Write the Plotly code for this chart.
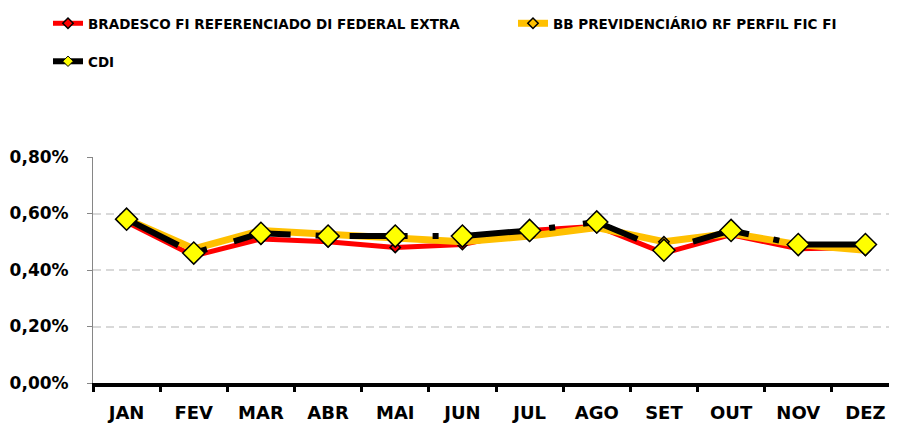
import plotly.graph_objects as go

months = ["JAN", "FEV", "MAR", "ABR", "MAI", "JUN", "JUL", "AGO", "SET", "OUT", "NOV", "DEZ"]
bradesco = [0.57, 0.45, 0.51, 0.50, 0.48, 0.49, 0.54, 0.555, 0.46, 0.525, 0.475, 0.48]
bb = [0.58, 0.475, 0.54, 0.525, 0.515, 0.50, 0.52, 0.55, 0.50, 0.53, 0.49, 0.47]
cdi = [0.58, 0.46, 0.53, 0.52, 0.52, 0.52, 0.54, 0.57, 0.47, 0.54, 0.49, 0.49]
y_ticks = [0, 0.002, 0.004, 0.006, 0.008]

FONT = "DejaVu Sans"
W, H = 891, 420
CDI_DASH = "58px,25px,6px,28px"

fig = go.Figure()
fig.add_trace(go.Scatter(
    x=months, y=[v / 100 for v in bradesco], mode="lines+markers",
    name="BRADESCO FI REFERENCIADO DI FEDERAL EXTRA",
    line=dict(color="#FF0000", width=5),
    marker=dict(symbol="diamond", size=8, color="#FF0000", line=dict(color="black", width=1.5)),
    legend="legend"))
fig.add_trace(go.Scatter(
    x=months, y=[v / 100 for v in bb], mode="lines+markers",
    name="BB PREVIDENCIÁRIO RF PERFIL FIC FI",
    line=dict(color="#FFC000", width=7),
    marker=dict(symbol="diamond", size=8, color="#FFC000", line=dict(color="black", width=1.5)),
    legend="legend2"))
fig.add_trace(go.Scatter(
    x=months, y=[v / 100 for v in cdi], mode="lines+markers",
    name="CDI", showlegend=False,
    line=dict(color="black", width=6, dash=CDI_DASH),
    marker=dict(symbol="diamond", size=17, color="#FFFF00", line=dict(color="black", width=1.5))))
# legend entry for CDI (smaller symbol, as in the reference legend)
fig.add_trace(go.Scatter(
    x=[None], y=[None], mode="lines+markers", name="CDI",
    line=dict(color="black", width=6),
    marker=dict(symbol="diamond", size=8, color="#FFFF00", line=dict(color="black", width=1)),
    legend="legend3"))

leg_common = dict(orientation="h", xanchor="left", yanchor="top",
                  xref="container", yref="container",
                  font=dict(size=13.5, family=FONT, weight="bold"),
                  itemsizing="trace", bgcolor="rgba(0,0,0,0)")

fig.update_layout(
    width=W, height=H,
    showlegend=True,
    margin=dict(l=85, r=0, t=149, b=45),
    paper_bgcolor="white", plot_bgcolor="white",
    separators=",.",
    font=dict(family=FONT, color="black"),
    legend=dict(x=40 / W, y=1.0, **leg_common),
    legend2=dict(x=505 / W, y=1.0, **leg_common),
    legend3=dict(x=40 / W, y=1 - 38 / H, **leg_common),
)
fig.update_xaxes(
    type="category", showgrid=False, showline=True, linecolor="black", linewidth=4,
    ticks="outside", tickson="boundaries", ticklen=5, tickwidth=3, tickcolor="black",
    tickfont=dict(size=18, family=FONT, weight="bold"), ticklabelstandoff=10,
    range=[-0.5, 11.5], zeroline=False, automargin=False)
fig.update_yaxes(
    range=[0, 0.008], tickvals=y_ticks, tickformat=".2%",
    showgrid=True, gridcolor="#D9D9D9", gridwidth=1.5, griddash="8px,5px",
    showline=True, linecolor="#868686", linewidth=1,
    ticks="outside", ticklen=5, tickcolor="#868686",
    tickfont=dict(size=17, family=FONT, weight="bold"), ticklabelstandoff=15,
    zeroline=False, automargin=False)

fig.write_html("out.html")
